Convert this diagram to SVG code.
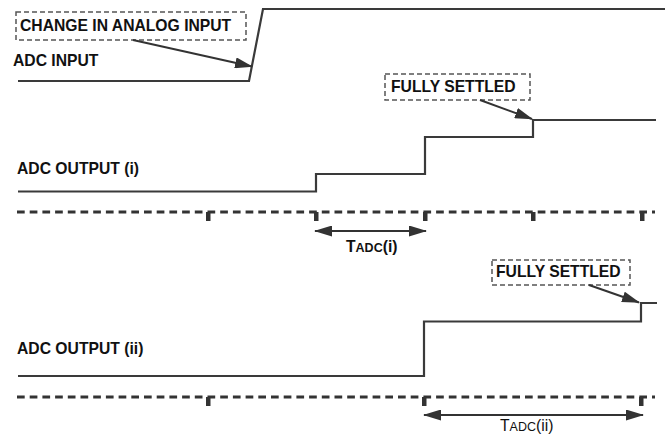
<svg xmlns="http://www.w3.org/2000/svg" width="665" height="436" viewBox="0 0 665 436">
<defs>
<style>
.sig{fill:none;stroke:#3a3a3a;stroke-width:2.2;stroke-linejoin:miter}
.lbl{font-family:"Liberation Sans",Arial,sans-serif;font-weight:bold;font-size:15.7px;fill:#111}
.reg{font-family:"Liberation Sans",Arial,sans-serif;font-size:15.7px;fill:#111}
.box{fill:none;stroke:#555;stroke-width:1.5;stroke-dasharray:5 3}
.clk{fill:none;stroke:#333;stroke-width:3.2;stroke-dasharray:7.7 5}
.tick{fill:#333}
.arr{fill:none;stroke:#333;stroke-width:2}
</style>
<marker id="ah" viewBox="0 0 18 11" refX="17" refY="5.5" markerWidth="18" markerHeight="11" markerUnits="userSpaceOnUse" orient="auto-start-reverse">
<path d="M0,0 L18,5.5 L0,11 Z" fill="#333"/>
</marker>
</defs>

<g id="adc-input">
<path class="sig" d="M18,81 L249,81 L263,9 L665,9"/>
<text class="lbl" x="13" y="66">ADC INPUT</text>
</g>

<g id="change-label">
<rect class="box" x="16" y="12" width="230" height="28"/>
<text class="lbl" x="20" y="31">CHANGE IN ANALOG INPUT</text>
</g>

<g id="adc-output-i">
<path class="sig" d="M18,191.5 L316,191.5 L316,174 L425,174 L425,137 L533,137 L533,120 L656,120"/>
<text class="lbl" x="17" y="174">ADC OUTPUT (i)</text>
</g>

<g id="settled-1">
<rect class="box" x="385" y="74" width="145" height="26"/>
<text class="lbl" x="391" y="92">FULLY SETTLED</text>
</g>

<g id="clock-1">
<line class="clk" x1="17" y1="212" x2="655" y2="212"/>
<rect class="tick" x="206" y="212" width="4.5" height="9"/>
<rect class="tick" x="314" y="212" width="4.5" height="9"/>
<rect class="tick" x="423" y="212" width="4.5" height="9"/>
<rect class="tick" x="531" y="212" width="4.5" height="9"/>
<rect class="tick" x="640" y="212" width="4.5" height="9"/>
</g>

<g id="tadc-i">
<text class="lbl" x="346" y="252">T<tspan font-size="12.5px">ADC</tspan>(i)</text>
</g>

<g id="adc-output-ii">
<path class="sig" d="M18,376 L424,376 L424,321.5 L641,321.5 L641,303 L657,303"/>
<text class="lbl" x="17" y="354">ADC OUTPUT (ii)</text>
</g>

<g id="settled-2">
<rect class="box" x="492" y="260" width="138" height="25"/>
<text class="lbl" x="496" y="277">FULLY SETTLED</text>
</g>

<g id="clock-2">
<line class="clk" x1="17" y1="397" x2="655" y2="397"/>
<rect class="tick" x="206" y="397" width="4.5" height="9"/>
<rect class="tick" x="422" y="397" width="4.5" height="9"/>
<rect class="tick" x="639" y="397" width="4.5" height="9"/>
</g>

<g id="tadc-ii">
<text class="reg" x="500" y="431">T<tspan font-size="12.5px">ADC</tspan>(ii)</text>
</g>

<g id="connectors">
<line class="arr" x1="133" y1="40" x2="252" y2="66.5" marker-end="url(#ah)"/>
<line class="arr" x1="480" y1="100" x2="532" y2="119" marker-end="url(#ah)"/>
<line class="arr" x1="589" y1="285" x2="639" y2="302.5" marker-end="url(#ah)"/>
<line class="arr" x1="315" y1="231" x2="426" y2="231" marker-start="url(#ah)" marker-end="url(#ah)"/>
<line class="arr" x1="424" y1="415" x2="643" y2="415" marker-start="url(#ah)" marker-end="url(#ah)"/>
</g>
</svg>
